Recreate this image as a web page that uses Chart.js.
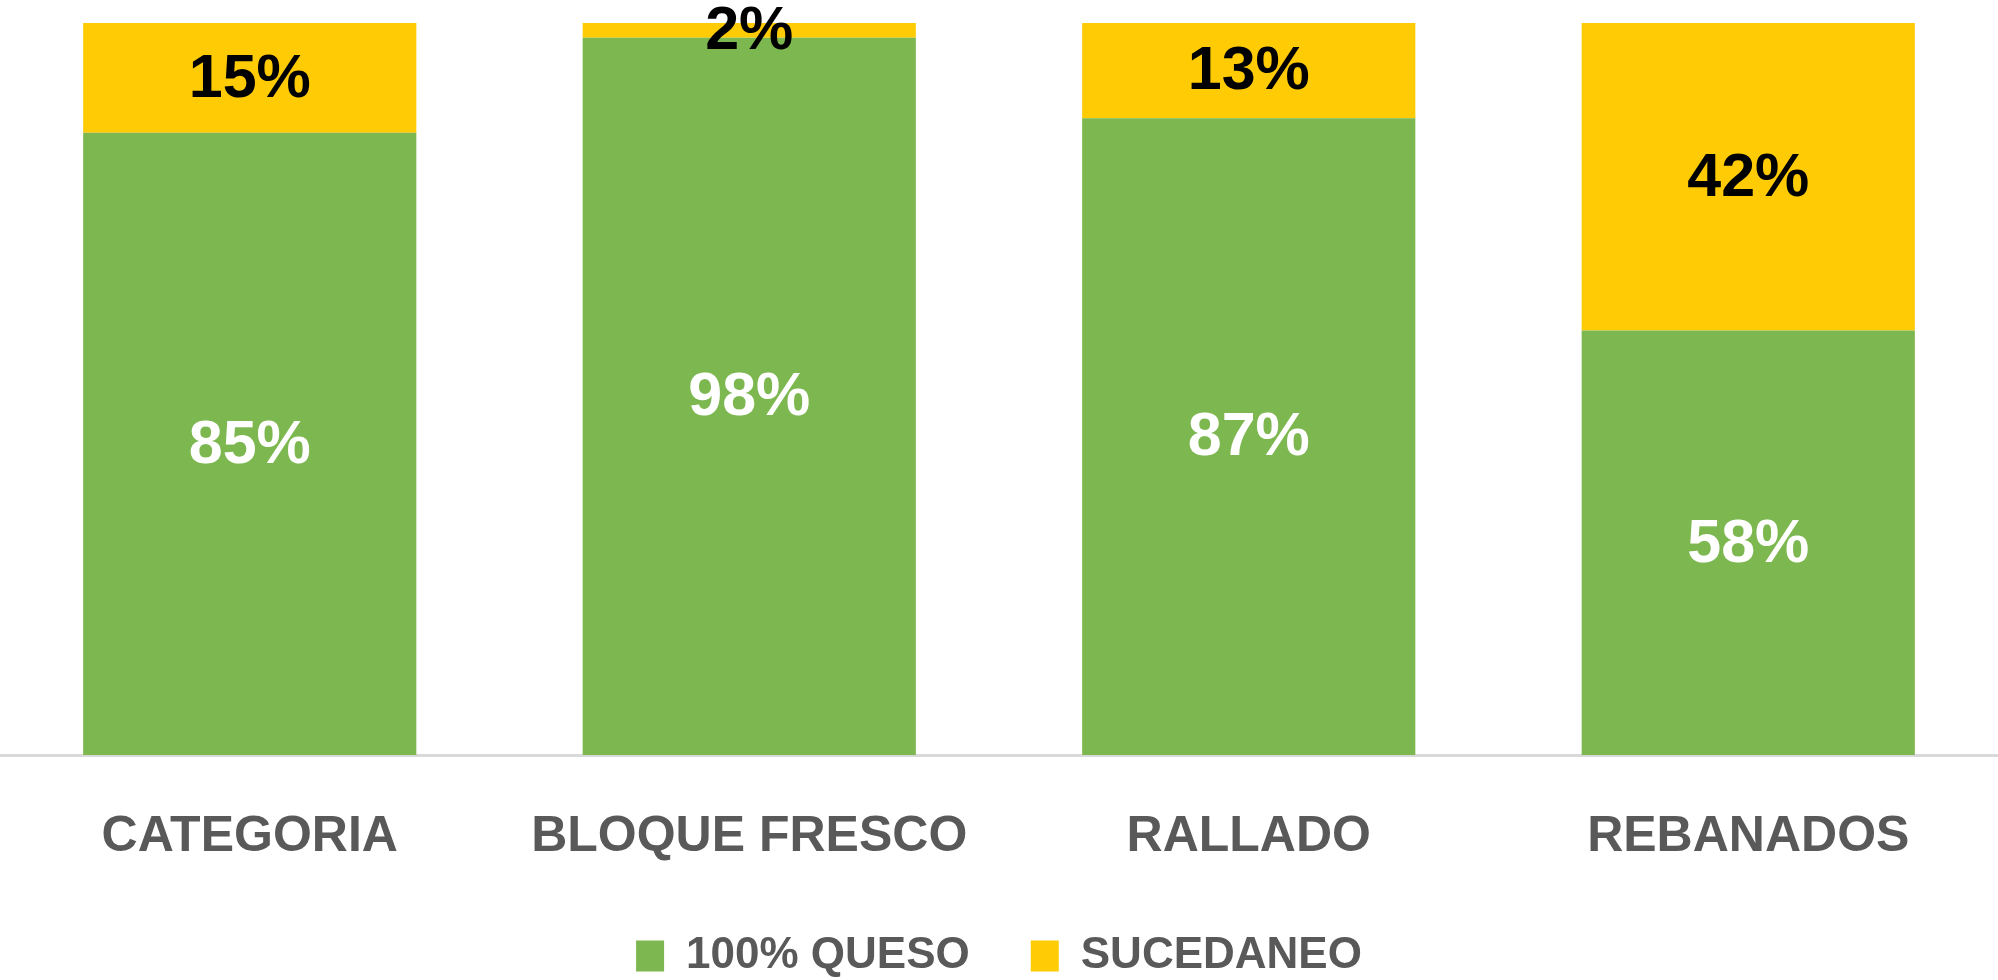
<!DOCTYPE html>
<html>
<head>
<meta charset="utf-8">
<script src="https://cdn.jsdelivr.net/npm/chart.js@4/dist/chart.umd.min.js"></script>
<style>
  html, body { margin: 0; padding: 0; background: #fff; }
  #wrap { width: 1998px; height: 980px; }
</style>
</head>
<body>
<div id="wrap"><canvas id="myChart" width="1998" height="980"></canvas></div>
<script>
const categories = ['CATEGORIA', 'BLOQUE FRESCO', 'RALLADO', 'REBANADOS'];
const seriesNames = ['100% QUESO', 'SUCEDANEO'];
const quesoValues = [85, 98, 87, 58];
const sucedaneoValues = [15, 2, 13, 42];

// draws the % label in the middle of each bar segment
const segmentLabels = {
    id: 'segmentLabels',
    afterDatasetsDraw(chart) {
        const ctx = chart.ctx;
        ctx.save();
        ctx.font = 'bold 61px "Liberation Sans", Arial, sans-serif';
        ctx.textAlign = 'center';
        ctx.textBaseline = 'middle';
        chart.data.datasets.forEach((ds, i) => {
            const meta = chart.getDatasetMeta(i);
            meta.data.forEach((bar, j) => {
                const mid = (bar.y + bar.base) / 2;
                ctx.fillStyle = i === 0 ? '#ffffff' : '#000000';
                ctx.fillText(ds.data[j] + '%', bar.x, mid + 2);
            });
        });
        ctx.restore();
    }
};

const ctx = document.getElementById('myChart');

const myChart = new Chart(ctx, {
    type: 'bar',
    data: {
        labels: categories,
        datasets: [{
            label: seriesNames[0],
            data: quesoValues,
            backgroundColor: '#7CB74F',
            borderWidth: 0
        }, {
            label: seriesNames[1],
            data: sucedaneoValues,
            backgroundColor: '#FFCB05',
            borderWidth: 0
        }]
    },
    options: {
        responsive: false,
        animation: false,
        layout: {
            padding: { top: 23, left: 0, right: 0, bottom: -8 }
        },
        datasets: {
            bar: {
                barPercentage: 1,
                categoryPercentage: 0.667
            }
        },
        scales: {
            x: {
                stacked: true,
                grid: { display: false, drawTicks: false },
                border: { display: true, color: '#d9d9d9', width: 3 },
                ticks: {
                    color: '#595959',
                    padding: 46,
                    font: { size: 50, weight: 'bold', family: '"Liberation Sans", Arial, sans-serif', lineHeight: 1.44 }
                },
                afterFit(scale) {
                    scale.height = 118;
                }
            },
            y: {
                stacked: true,
                display: false,
                min: 0,
                max: 100
            }
        },
        plugins: {
            tooltip: { enabled: false },
            legend: {
                position: 'bottom',
                labels: {
                    color: '#595959',
                    boxWidth: 28,
                    boxHeight: 31,
                    padding: 61,
                    font: { size: 44, weight: 'bold', family: '"Liberation Sans", Arial, sans-serif' }
                }
            }
        }
    },
    plugins: [segmentLabels]
});
</script>
</body>
</html>
